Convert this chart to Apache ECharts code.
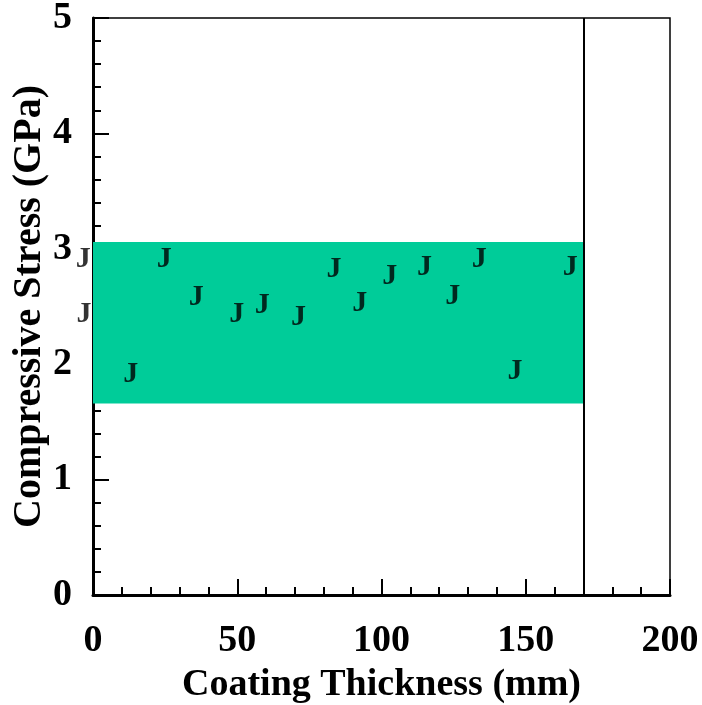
<!DOCTYPE html>
<html>
<head>
<meta charset="utf-8">
<script src="https://cdn.jsdelivr.net/npm/echarts@6/dist/echarts.min.js"></script>
<style>
  html, body { margin: 0; padding: 0; background: #fff; }
  #chart { width: 702px; height: 705px; }
</style>
</head>
<body>
<div id="chart"></div>
<script>
// coating thickness (um) and measured compressive stress (GPa)
const thickness = [-3.4, -3.1, 13.1, 24.7, 35.8, 49.8, 58.7, 71.2, 83.5, 92.5, 102.9, 114.9, 124.7, 133.9, 146.3, 165.4];
const stress = [2.91, 2.43, 1.91, 2.91, 2.58, 2.43, 2.51, 2.41, 2.82, 2.53, 2.76, 2.84, 2.59, 2.91, 1.94, 2.84];

// shaded range and the vertical limit line
const bandLow = 1.66;
const bandHigh = 3.06;
const bandEnd = 170;

const serif = "Liberation Serif";

const chart = echarts.init(document.getElementById("chart"));

const points = thickness.map((t, i) => [t, stress[i]]);

const option = {
  animation: false,
  backgroundColor: "#fff",
  grid: {
    left: 93,
    right: 32,
    top: 18,
    bottom: 110,
    outerBoundsMode: "none",
    containLabel: false,
    show: true,
    borderColor: "#000",
    borderWidth: 1.5,
    backgroundColor: "transparent",
  },
  xAxis: {
    type: "value",
    min: 0,
    max: 200,
    interval: 50,
    name: "Coating Thickness (mm)",
    nameLocation: "middle",
    nameGap: 71,
    nameMoveOverlap: false,
    nameTextStyle: { fontFamily: serif, fontWeight: "bold", fontSize: 38, color: "#000" },
    axisLine: { show: true, lineStyle: { color: "#000", width: 3 } },
    axisTick: { show: true, inside: true, length: 16, lineStyle: { color: "#000", width: 2 } },
    minorTick: { show: true, splitNumber: 5, length: 8, lineStyle: { color: "#000", width: 2 } },
    axisLabel: { fontFamily: serif, fontWeight: "bold", fontSize: 38, color: "#000", margin: 27 },
    splitLine: { show: false },
  },
  yAxis: {
    type: "value",
    min: 0,
    max: 5,
    interval: 1,
    name: "Compressive Stress (GPa)",
    nameLocation: "middle",
    nameGap: 43,
    nameMoveOverlap: false,
    nameTextStyle: { fontFamily: serif, fontWeight: "bold", fontSize: 40, color: "#000" },
    axisLine: { show: true, lineStyle: { color: "#000", width: 3 } },
    axisTick: { show: true, inside: true, length: 16, lineStyle: { color: "#000", width: 2 } },
    minorTick: { show: true, splitNumber: 5, length: 8, lineStyle: { color: "#000", width: 2 } },
    axisLabel: {
      fontFamily: serif,
      fontWeight: "bold",
      fontSize: 38,
      color: "#000",
      margin: 21,
      padding: [14, 0, 0, 0],
    },
    splitLine: { show: false },
  },
  series: [
    {
      type: "scatter",
      data: points,
      clip: false,
      symbolSize: 1,
      itemStyle: { color: "rgba(0,0,0,0)" },
      label: {
        show: true,
        position: "inside",
        formatter: "J",
        fontFamily: serif,
        fontWeight: "bold",
        fontSize: 30,
        color: "#000",
      },
      markArea: {
        silent: true,
        itemStyle: { color: "#00cc99" },
        data: [[{ xAxis: 0, yAxis: bandLow }, { xAxis: bandEnd, yAxis: bandHigh }]],
      },
      markLine: {
        silent: true,
        symbol: "none",
        label: { show: false },
        lineStyle: { color: "#000", width: 2, type: "solid" },
        data: [{ xAxis: bandEnd }],
      },
    },
  ],
};

chart.setOption(option);
</script>
</body>
</html>
